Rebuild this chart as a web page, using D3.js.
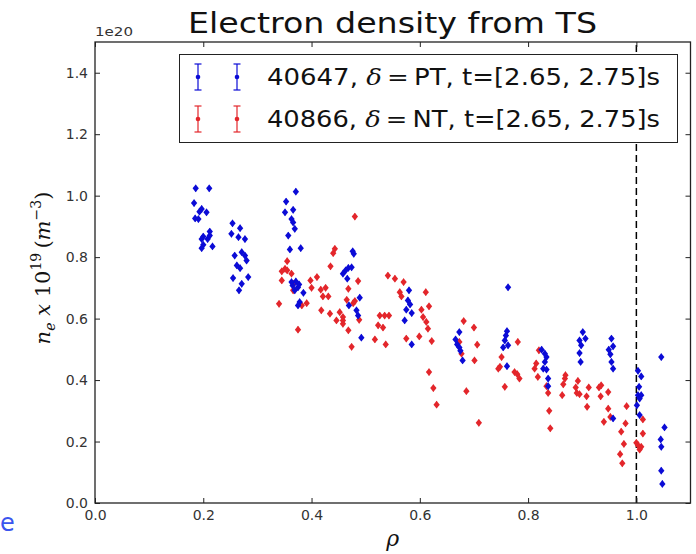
<!DOCTYPE html>
<html>
<head>
<meta charset="utf-8">
<script src="https://cdn.jsdelivr.net/npm/d3@7"></script>
<style>
  body { margin: 0; background: #fff; }
  text { font-family: "DejaVu Sans", sans-serif; }
</style>
</head>
<body>
<script>
// shot 40647, positive triangularity: [rho, ne (1e20 m^-3)]
var ptPoints = [
  [0.186,1.024],[0.211,1.024],[0.183,0.976],[0.197,0.957],[0.206,0.946],[0.193,0.948],[0.185,0.926],[0.191,0.924],
  [0.212,0.883],[0.200,0.867],[0.197,0.859],[0.208,0.859],[0.217,0.835],[0.200,0.840],[0.197,0.829],[0.212,0.870],
  [0.254,0.910],[0.268,0.894],[0.252,0.876],[0.265,0.865],[0.277,0.859],[0.271,0.816],[0.258,0.805],[0.277,0.805],
  [0.262,0.773],[0.268,0.764],[0.280,0.789],[0.255,0.732],[0.283,0.735],[0.271,0.713],[0.266,0.692],
  [0.371,1.013],[0.353,0.981],[0.366,0.954],[0.351,0.946],[0.363,0.924],[0.366,0.913],[0.369,0.892],[0.357,0.870],
  [0.360,0.825],[0.380,0.829],[0.371,0.721],[0.365,0.708],[0.375,0.702],[0.369,0.692],[0.385,0.684],[0.378,0.654],
  [0.375,0.643],[0.377,0.711],[0.363,0.719],
  [0.476,0.819],[0.478,0.811],[0.468,0.765],[0.463,0.757],[0.474,0.767],[0.458,0.746],[0.466,0.730],[0.489,0.668],
  [0.469,0.643],[0.483,0.627],[0.486,0.610],[0.492,0.538],
  [0.580,0.692],[0.578,0.659],[0.582,0.646],[0.575,0.629],[0.585,0.618],[0.572,0.594],[0.585,0.516],
  [0.673,0.556],[0.666,0.532],[0.669,0.516],[0.673,0.506],[0.675,0.495],[0.679,0.464],
  [0.763,0.702],[0.761,0.559],[0.759,0.545],[0.757,0.529],[0.763,0.513],[0.754,0.506],[0.761,0.445],
  [0.825,0.499],[0.831,0.486],[0.834,0.475],[0.831,0.459],[0.828,0.437],[0.834,0.434],[0.837,0.405],[0.837,0.380],
  [0.901,0.556],[0.895,0.529],[0.906,0.535],[0.898,0.513],[0.895,0.488],[0.897,0.459],
  [0.954,0.535],[0.957,0.510],[0.949,0.499],[0.952,0.484],[0.954,0.459],[0.957,0.437],[0.957,0.275],
  [1.003,0.430],[1.009,0.412],[1.005,0.378],[1.003,0.351],[1.009,0.351],[1.006,0.340],[1.001,0.318],[1.006,0.286],
  [1.046,0.475],[1.052,0.246],[1.045,0.207],[1.046,0.183],[1.046,0.105],[1.048,0.062]
];

// shot 40866, negative triangularity
var ntPoints = [
  [0.355,0.787],[0.351,0.762],[0.345,0.754],[0.355,0.757],[0.363,0.746],[0.345,0.724],[0.367,0.713],[0.366,0.692],
  [0.340,0.648],[0.391,0.650],[0.382,0.643],[0.375,0.564],
  [0.398,0.724],[0.410,0.735],[0.400,0.700],[0.417,0.694],[0.426,0.700],[0.421,0.672],[0.431,0.672],[0.418,0.627],
  [0.434,0.616],[0.443,0.827],[0.440,0.813],[0.435,0.770],[0.452,0.621],[0.458,0.605],
  [0.446,0.594],[0.458,0.594],[0.458,0.583],[0.468,0.562],[0.488,0.596],[0.474,0.508],[0.468,0.697],[0.465,0.661],
  [0.486,0.722],[0.477,0.650],[0.480,0.932],[0.480,0.657],
  [0.517,0.532],[0.537,0.516],[0.526,0.610],[0.535,0.610],[0.543,0.610],[0.523,0.578],[0.532,0.571],[0.541,0.740],
  [0.554,0.730],[0.570,0.719],[0.563,0.686],[0.566,0.672],[0.575,0.535],[0.599,0.542],
  [0.611,0.686],[0.617,0.640],[0.603,0.629],[0.606,0.605],[0.612,0.589],[0.615,0.567],[0.622,0.527],[0.617,0.426],
  [0.625,0.374],[0.631,0.320],
  [0.681,0.592],[0.700,0.571],[0.673,0.524],[0.677,0.486],[0.706,0.515],[0.701,0.464],[0.686,0.364],[0.709,0.261],
  [0.781,0.524],[0.751,0.475],[0.748,0.443],[0.745,0.437],[0.775,0.426],[0.780,0.419],[0.784,0.405],[0.757,0.378],
  [0.820,0.497],[0.815,0.454],[0.812,0.437],[0.818,0.410],[0.834,0.380],[0.837,0.358],[0.839,0.300],[0.841,0.243],
  [0.869,0.416],[0.868,0.405],[0.865,0.386],[0.863,0.351],[0.892,0.397],[0.888,0.376],[0.890,0.358],[0.895,0.354],
  [0.908,0.347],[0.912,0.376],[0.909,0.313],
  [0.931,0.376],[0.935,0.383],[0.934,0.347],[0.948,0.361],[0.948,0.307],[0.940,0.264],[0.952,0.280],[0.982,0.315],
  [0.980,0.259],[0.972,0.232],[0.977,0.192],[0.970,0.159],[0.974,0.129],
  [1.000,0.196],[1.009,0.183],[1.006,0.174],[1.012,0.272],[1.012,0.226],[1.003,0.188]
];

var xTicks = [0.0, 0.2, 0.4, 0.6, 0.8, 1.0];
var yTicks = [0.0, 0.2, 0.4, 0.6, 0.8, 1.0, 1.2, 1.4];
var xDomain = [0, 1.1];
var yDomain = [0, 1.5];
var separatrix = 1.0;

var legendRows = [
  {shot: "40647, ", delta: "PT, t=[2.65, 2.75]s", color: "#0b0bd6"},
  {shot: "40866, ", delta: "NT, t=[2.65, 2.75]s", color: "#e3262b"}
];

var w = 696, h = 554;
var margin = {left: 95, right: 5.5, top: 42, bottom: 51};

var svg = d3.select("body").append("svg")
  .attr("width", w)
  .attr("height", h);

var xScale = d3.scaleLinear().domain(xDomain).range([margin.left, w - margin.right]);
var yScale = d3.scaleLinear().domain(yDomain).range([h - margin.bottom, margin.top]);

// title (the source picture is a bit stretched sideways)
svg.append("text")
  .attr("x", 188)
  .attr("y", 33)
  .attr("textLength", 409)
  .attr("lengthAdjust", "spacingAndGlyphs")
  .style("font-size", "28px")
  .attr("fill", "#111")
  .text("Electron density from TS");

// offset text of the y axis
svg.append("text")
  .attr("x", margin.left)
  .attr("y", 36)
  .attr("textLength", 38)
  .attr("lengthAdjust", "spacingAndGlyphs")
  .style("font-size", "13px")
  .attr("fill", "#333")
  .text("1e20");

// dashed line at rho = 1
svg.append("line")
  .attr("x1", xScale(separatrix))
  .attr("x2", xScale(separatrix))
  .attr("y1", yScale(yDomain[0]))
  .attr("y2", yScale(yDomain[1]))
  .attr("stroke", "#000")
  .attr("stroke-width", 1.5)
  .attr("stroke-dasharray", "7,4");

// markers: small diamond with a short error bar
function drawPoints(points, color) {
  var g = svg.append("g");
  g.selectAll("line")
    .data(points)
    .enter()
    .append("line")
    .attr("x1", function(d) { return xScale(d[0]); })
    .attr("x2", function(d) { return xScale(d[0]); })
    .attr("y1", function(d) { return yScale(d[1]) - 3.5; })
    .attr("y2", function(d) { return yScale(d[1]) + 3.5; })
    .attr("stroke", color)
    .attr("stroke-width", 1)
    .attr("opacity", 0.7);
  g.selectAll("path")
    .data(points)
    .enter()
    .append("path")
    .attr("d", d3.symbol(d3.symbolDiamond, 24))
    .attr("transform", function(d) {
      return "translate(" + xScale(d[0]) + "," + yScale(d[1]) + ") scale(1.2,0.85)";
    })
    .attr("fill", color);
}
drawPoints(ntPoints, legendRows[1].color);
drawPoints(ptPoints, legendRows[0].color);

// axes with inward ticks on all four sides
var axisColor = "#222";
svg.append("g")
  .attr("transform", "translate(0," + yScale(0) + ")")
  .call(d3.axisBottom(xScale).tickValues(xTicks).tickSizeInner(-5).tickSizeOuter(0).tickPadding(7).tickFormat(d3.format(".1f")));
svg.append("g")
  .attr("transform", "translate(0," + yScale(yDomain[1]) + ")")
  .call(d3.axisTop(xScale).tickValues(xTicks).tickSizeInner(-5).tickSizeOuter(0).tickFormat(""));
svg.append("g")
  .attr("transform", "translate(" + xScale(0) + ",0)")
  .call(d3.axisLeft(yScale).tickValues(yTicks).tickSizeInner(-5).tickSizeOuter(0).tickPadding(7).tickFormat(d3.format(".1f")));
svg.append("g")
  .attr("transform", "translate(" + xScale(xDomain[1]) + ",0)")
  .call(d3.axisRight(yScale).tickValues(yTicks).tickSizeInner(-5).tickSizeOuter(0).tickFormat(""));

svg.selectAll(".domain").remove();
svg.selectAll(".tick line").attr("stroke", axisColor);
svg.selectAll(".tick text").attr("fill", "#333").style("font-size", "14px").style("font-family", "DejaVu Sans, sans-serif");

// frame
svg.append("rect")
  .attr("x", xScale(xDomain[0]))
  .attr("y", yScale(yDomain[1]))
  .attr("width", xScale(xDomain[1]) - xScale(xDomain[0]))
  .attr("height", yScale(yDomain[0]) - yScale(yDomain[1]))
  .attr("fill", "none")
  .attr("stroke", axisColor)
  .attr("stroke-width", 1.3);

// legend
var legend = svg.append("g");
legend.append("rect")
  .attr("x", 179.5)
  .attr("y", 54.5)
  .attr("width", 498)
  .attr("height", 88)
  .attr("fill", "#fff")
  .attr("stroke", "#222")
  .attr("stroke-width", 1);

legendRows.forEach(function(row, i) {
  var cy = 77 + i * 42;
  [198, 237].forEach(function(cx) {
    legend.append("line").attr("x1", cx).attr("x2", cx).attr("y1", cy - 13).attr("y2", cy + 13)
      .attr("stroke", row.color).attr("stroke-width", 1.2);
    legend.append("line").attr("x1", cx - 3.5).attr("x2", cx + 3.5).attr("y1", cy - 13).attr("y2", cy - 13)
      .attr("stroke", row.color).attr("stroke-width", 1.2);
    legend.append("line").attr("x1", cx - 3.5).attr("x2", cx + 3.5).attr("y1", cy + 13).attr("y2", cy + 13)
      .attr("stroke", row.color).attr("stroke-width", 1.2);
    legend.append("circle").attr("cx", cx).attr("cy", cy).attr("r", 2.3).attr("fill", row.color);
  });
  var t = legend.append("text")
    .attr("x", 267)
    .attr("y", cy + 8)
    .attr("textLength", 393)
    .attr("lengthAdjust", "spacingAndGlyphs")
    .style("font-size", "23px")
    .attr("fill", "#111");
  t.append("tspan").text(row.shot);
  t.append("tspan").style("font-family", "DejaVu Serif, serif").style("font-style", "italic").text("δ");
  t.append("tspan").style("font-family", "DejaVu Serif, serif").text("\u2009=\u2009");
  t.append("tspan").text(row.delta);
});

// y label, mathtext style
var yl = svg.append("text")
  .attr("transform", "translate(50,268) rotate(-90)")
  .attr("text-anchor", "middle")
  .style("font-family", "DejaVu Serif, serif")
  .style("font-size", "21px")
  .attr("fill", "#111");
yl.append("tspan").style("font-style", "italic").text("n");
yl.append("tspan").style("font-style", "italic").style("font-size", "14px").attr("dy", 5).text("e");
yl.append("tspan").style("font-style", "italic").attr("dy", -5).text(" x ");
yl.append("tspan").text("10");
yl.append("tspan").style("font-size", "14px").attr("dy", -9).text("19");
yl.append("tspan").attr("dy", 9).text("\u2009(");
yl.append("tspan").style("font-style", "italic").text("m");
yl.append("tspan").style("font-size", "14px").attr("dy", -9).text("−3");
yl.append("tspan").attr("dy", 9).text(")");

// x label
svg.append("text")
  .attr("x", (xScale.range()[0] + xScale.range()[1]) / 2)
  .attr("y", 546)
  .attr("text-anchor", "middle")
  .style("font-family", "DejaVu Serif, serif")
  .style("font-style", "italic")
  .style("font-size", "22px")
  .attr("fill", "#111")
  .text("ρ");

// stray slide letter at the bottom left
svg.append("text")
  .attr("x", 0)
  .attr("y", 531)
  .style("font-size", "24px")
  .attr("fill", "#3a55ee")
  .text("e");
</script>
</body>
</html>
